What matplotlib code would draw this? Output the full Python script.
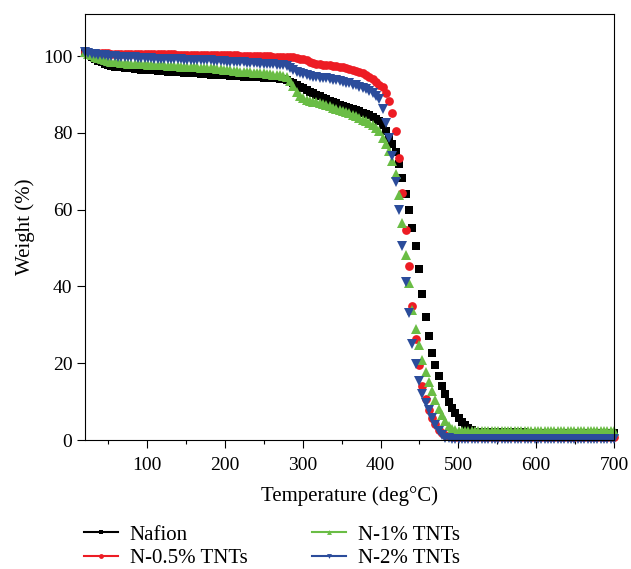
import numpy as np
import matplotlib
matplotlib.use("Agg")
import matplotlib.pyplot as plt
from matplotlib.lines import Line2D
from matplotlib.ticker import MultipleLocator

plt.rcParams['font.family'] = ['Liberation Serif', 'DejaVu Serif']

# sampling temperatures (deg C)
temp = [20.0, 24.25, 28.5, 32.75, 37.0, 41.25, 45.5, 49.75, 54.0, 58.25,
        62.5, 66.75, 71.0, 75.25, 79.5, 83.75, 88.0, 92.25, 96.5, 100.75,
        105.0, 109.25, 113.5, 117.75, 122.0, 126.25, 130.5, 134.75, 139.0, 143.25,
        147.5, 151.75, 156.0, 160.25, 164.5, 168.75, 173.0, 177.25, 181.5, 185.75,
        190.0, 194.25, 198.5, 202.75, 207.0, 211.25, 215.5, 219.75, 224.0, 228.25,
        232.5, 236.75, 241.0, 245.25, 249.5, 253.75, 258.0, 262.25, 266.5, 270.75,
        275.0, 279.25, 283.5, 287.75, 292.0, 296.25, 300.5, 304.75, 309.0, 313.25,
        317.5, 321.75, 326.0, 330.25, 334.5, 338.75, 343.0, 347.25, 351.5, 355.75,
        360.0, 364.25, 368.5, 372.75, 377.0, 381.25, 385.5, 389.75, 394.0, 398.25,
        402.5, 406.75, 411.0, 415.25, 419.5, 423.75, 428.0, 432.25, 436.5, 440.75,
        445.0, 449.25, 453.5, 457.75, 462.0, 466.25, 470.5, 474.75, 479.0, 483.25,
        487.5, 491.75, 496.0, 500.25, 504.5, 508.75, 513.0, 517.25, 521.5, 525.75,
        530.0, 534.25, 538.5, 542.75, 547.0, 551.25, 555.5, 559.75, 564.0, 568.25,
        572.5, 576.75, 581.0, 585.25, 589.5, 593.75, 598.0, 602.25, 606.5, 610.75,
        615.0, 619.25, 623.5, 627.75, 632.0, 636.25, 640.5, 644.75, 649.0, 653.25,
        657.5, 661.75, 666.0, 670.25, 674.5, 678.75, 683.0, 687.25, 691.5, 695.75,
        700.0]

# weight (%)
nafion = [101.0, 100.3, 99.7, 99.2, 98.8, 98.4, 98.1, 97.8, 97.5, 97.3,
          97.2, 97.1, 97.0, 96.9, 96.8, 96.7, 96.6, 96.5, 96.5, 96.4,
          96.3, 96.3, 96.2, 96.2, 96.1, 96.0, 96.0, 95.9, 95.9, 95.8,
          95.7, 95.7, 95.6, 95.5, 95.5, 95.4, 95.4, 95.3, 95.2, 95.2,
          95.1, 95.1, 95.0, 95.0, 94.9, 94.9, 94.8, 94.8, 94.7, 94.7,
          94.6, 94.6, 94.5, 94.5, 94.4, 94.4, 94.3, 94.3, 94.2, 94.1,
          94.0, 93.8, 93.4, 92.9, 92.4, 92.0, 91.6, 91.2, 90.8, 90.4,
          90.0, 89.6, 89.2, 88.8, 88.4, 88.0, 87.7, 87.4, 87.1, 86.8,
          86.5, 86.2, 85.9, 85.6, 85.3, 85.0, 84.6, 84.2, 83.7, 83.1,
          82.2, 80.6, 78.8, 77.2, 75.0, 72.0, 68.2, 64.1, 59.8, 55.2,
          50.6, 44.6, 38.0, 32.0, 27.1, 22.8, 19.5, 16.6, 14.1, 12.0,
          9.9, 8.4, 7.0, 5.8, 4.7, 3.8, 3.2, 2.6, 2.2, 2.0,
          2.0, 2.0, 2.0, 2.0, 2.0, 2.0, 2.0, 2.0, 2.0, 2.0,
          2.0, 2.0, 2.0, 2.0, 1.9, 1.9, 1.9, 1.9, 1.9, 1.9,
          1.9, 1.9, 1.9, 1.9, 1.9, 1.9, 1.9, 1.9, 1.9, 1.9,
          1.9, 1.9, 1.9, 1.8, 1.8, 1.8, 1.8, 1.8, 1.8, 1.8,
          1.8]

n05 = [101.0, 100.9, 100.9, 100.9, 100.8, 100.8, 100.8, 100.8, 100.7, 100.7,
       100.7, 100.7, 100.7, 100.7, 100.6, 100.6, 100.6, 100.6, 100.6, 100.6,
       100.6, 100.6, 100.5, 100.5, 100.5, 100.5, 100.5, 100.5, 100.4, 100.4,
       100.4, 100.4, 100.4, 100.4, 100.4, 100.3, 100.3, 100.3, 100.3, 100.3,
       100.3, 100.3, 100.2, 100.2, 100.2, 100.2, 100.2, 100.1, 100.1, 100.1,
       100.1, 100.1, 100.0, 100.0, 100.0, 100.0, 100.0, 99.9, 99.9, 99.9,
       99.9, 99.9, 99.8, 99.7, 99.6, 99.4, 99.2, 98.9, 98.6, 98.3,
       98.1, 97.9, 97.8, 97.7, 97.6, 97.5, 97.4, 97.2, 97.1, 96.9,
       96.7, 96.5, 96.2, 95.9, 95.6, 95.1, 94.5, 94.0, 93.3, 92.6,
       91.9, 90.4, 88.3, 85.2, 80.5, 73.6, 64.3, 54.7, 45.3, 34.8,
       26.3, 19.5, 14.2, 10.6, 7.9, 5.7, 4.1, 2.6, 1.7, 1.2,
       1.0, 0.9, 0.8, 0.8, 0.8, 0.8, 0.8, 0.8, 0.8, 0.8,
       0.8, 0.8, 0.8, 0.8, 0.8, 0.8, 0.8, 0.8, 0.8, 0.8,
       0.8, 0.8, 0.8, 0.8, 0.8, 0.7, 0.7, 0.7, 0.7, 0.7,
       0.7, 0.7, 0.7, 0.7, 0.7, 0.7, 0.7, 0.7, 0.7, 0.7,
       0.7, 0.7, 0.7, 0.7, 0.7, 0.7, 0.7, 0.7, 0.7, 0.7,
       0.7]

n1 = [101.0, 100.6, 100.2, 99.9, 99.6, 99.3, 99.0, 98.8, 98.6, 98.5,
      98.4, 98.3, 98.2, 98.1, 98.1, 98.0, 98.0, 97.9, 97.9, 97.8,
      97.8, 97.7, 97.7, 97.6, 97.6, 97.5, 97.5, 97.4, 97.4, 97.3,
      97.3, 97.2, 97.2, 97.1, 97.1, 97.0, 97.0, 96.9, 96.9, 96.8,
      96.7, 96.6, 96.5, 96.4, 96.3, 96.2, 96.1, 96.0, 95.9, 95.8,
      95.8, 95.7, 95.6, 95.5, 95.5, 95.4, 95.3, 95.2, 95.1, 95.0,
      94.9, 94.5, 93.6, 92.2, 90.8, 89.7, 89.1, 88.7, 88.4, 88.2,
      88.0, 87.8, 87.5, 87.2, 86.9, 86.6, 86.3, 86.0, 85.7, 85.4,
      85.1, 84.8, 84.4, 84.0, 83.5, 83.1, 82.6, 82.0, 81.4, 80.6,
      78.8, 77.0, 75.3, 72.8, 69.4, 63.9, 56.6, 48.2, 40.9, 33.9,
      28.9, 24.7, 20.8, 17.7, 15.1, 12.7, 10.3, 8.2, 6.4, 4.9,
      3.6, 2.9, 2.6, 2.4, 2.3, 2.3, 2.3, 2.3, 2.3, 2.3,
      2.3, 2.3, 2.3, 2.3, 2.3, 2.3, 2.3, 2.3, 2.3, 2.3,
      2.3, 2.3, 2.3, 2.3, 2.3, 2.3, 2.3, 2.3, 2.3, 2.3,
      2.3, 2.3, 2.3, 2.3, 2.3, 2.3, 2.3, 2.3, 2.3, 2.3,
      2.3, 2.3, 2.3, 2.3, 2.3, 2.3, 2.3, 2.3, 2.3, 2.3,
      2.3]

n2 = [101.0, 100.8, 100.6, 100.5, 100.4, 100.3, 100.2, 100.1, 100.0, 100.0,
      99.9, 99.9, 99.8, 99.8, 99.7, 99.7, 99.6, 99.6, 99.6, 99.5,
      99.5, 99.4, 99.4, 99.4, 99.3, 99.3, 99.3, 99.2, 99.2, 99.2,
      99.1, 99.1, 99.1, 99.0, 99.0, 99.0, 98.9, 98.9, 98.9, 98.8,
      98.8, 98.7, 98.7, 98.6, 98.6, 98.5, 98.5, 98.4, 98.4, 98.3,
      98.3, 98.2, 98.2, 98.1, 98.1, 98.0, 98.0, 97.9, 97.8, 97.7,
      97.6, 97.4, 97.0, 96.4, 96.0, 95.7, 95.4, 95.1, 94.8, 94.6,
      94.5, 94.4, 94.3, 94.2, 94.0, 93.8, 93.7, 93.5, 93.3, 93.1,
      92.9, 92.6, 92.4, 92.1, 91.8, 91.4, 90.9, 90.3, 89.6, 88.9,
      86.2, 82.7, 78.7, 73.9, 67.3, 59.8, 50.6, 41.3, 33.0, 25.1,
      19.7, 15.3, 12.0, 9.7, 7.7, 5.8, 4.0, 2.3, 1.2, 0.6,
      0.4, 0.3, 0.3, 0.3, 0.3, 0.3, 0.3, 0.3, 0.3, 0.3,
      0.3, 0.3, 0.3, 0.3, 0.3, 0.3, 0.3, 0.3, 0.3, 0.3,
      0.3, 0.3, 0.3, 0.3, 0.3, 0.3, 0.3, 0.3, 0.3, 0.3,
      0.2, 0.2, 0.2, 0.2, 0.2, 0.2, 0.2, 0.2, 0.2, 0.2,
      0.2, 0.2, 0.2, 0.2, 0.2, 0.2, 0.2, 0.2, 0.2, 0.2,
      0.2]

labels = ["Nafion", "N-0.5% TNTs", "N-1% TNTs", "N-2% TNTs"]
colors = ["#000000", "#ED1C24", "#6ABD45", "#2B4C9B"]
markers = ["s", "o", "^", "v"]
msizes = [5.6, 6.3, 7.0, 7.0]

fig = plt.figure(figsize=(6.31, 5.69), dpi=100)
ax = fig.add_axes([0.1347, 0.2267, 0.8383, 0.7487])

for y, c, m, ms in zip([nafion, n05, n1, n2], colors, markers, msizes):
    ax.plot(temp, y, linestyle="none", marker=m, ms=ms, color=c, mew=0, clip_on=False)

ax.set_xlim(20, 700)
ax.set_ylim(0, 111)
ax.xaxis.set_major_locator(MultipleLocator(100))
ax.xaxis.set_minor_locator(MultipleLocator(50))
ax.yaxis.set_major_locator(MultipleLocator(20))
ax.tick_params(axis="both", which="major", direction="out", length=5.5, width=0.8,
               labelsize=14, top=False, right=False)
ax.tick_params(axis="x", which="major", pad=6.5)
ax.tick_params(axis="x", which="minor", direction="out", length=3, width=0.8)
for s in ax.spines.values():
    s.set_linewidth(0.8)

ax.set_xlabel("Temperature (deg°C)", fontsize=15, labelpad=9)
ax.set_ylabel("Weight (%)", fontsize=15, labelpad=6)

handles = [Line2D([], [], color=c, marker=m, ms=3.5, lw=1.5, mew=0)
           for c, m in zip(colors, markers)]
fig.legend(handles, labels, ncol=2, loc="upper left", bbox_to_anchor=(0.133, 0.077),
           frameon=False, fontsize=15, handlelength=1.65, handletextpad=0.55,
           columnspacing=3.1, labelspacing=0.18, borderpad=0, borderaxespad=0)

fig.savefig("out.png", dpi=100)
